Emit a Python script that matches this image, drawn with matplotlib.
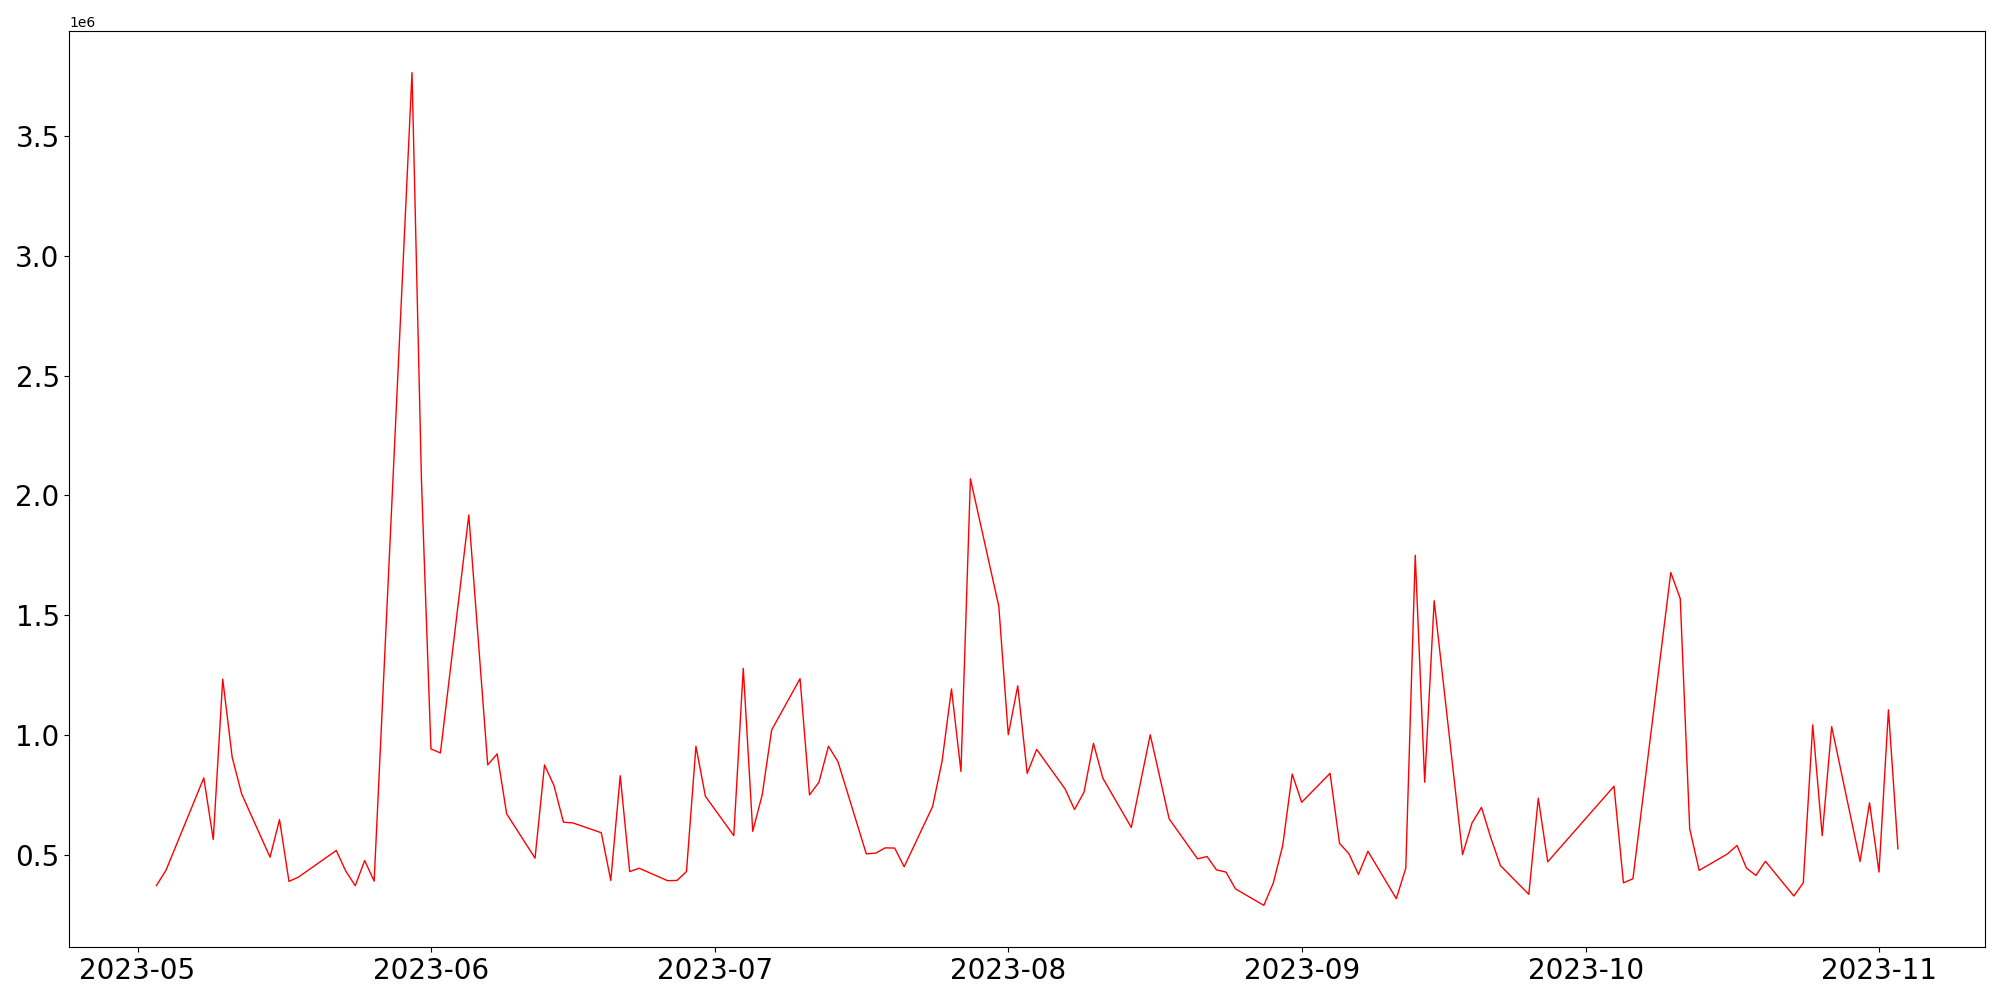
import numpy as np
import pandas as pd
import matplotlib
matplotlib.use("Agg")
import matplotlib.pyplot as plt

# ==========================================
# 日期与数值（读自参考图，单位 1e6）
dates = [
    "2023-05-03", "2023-05-04", "2023-05-08", "2023-05-09", "2023-05-10",
    "2023-05-11", "2023-05-12", "2023-05-15", "2023-05-16", "2023-05-17",
    "2023-05-18", "2023-05-22", "2023-05-23", "2023-05-24", "2023-05-25",
    "2023-05-26", "2023-05-30", "2023-05-31", "2023-06-01", "2023-06-02",
    "2023-06-05", "2023-06-07", "2023-06-08", "2023-06-09", "2023-06-12",
    "2023-06-13", "2023-06-14", "2023-06-15", "2023-06-16", "2023-06-19",
    "2023-06-20", "2023-06-21", "2023-06-22", "2023-06-23", "2023-06-26",
    "2023-06-27", "2023-06-28", "2023-06-29", "2023-06-30", "2023-07-03",
    "2023-07-04", "2023-07-05", "2023-07-06", "2023-07-07", "2023-07-10",
    "2023-07-11", "2023-07-12", "2023-07-13", "2023-07-14", "2023-07-17",
    "2023-07-18", "2023-07-19", "2023-07-20", "2023-07-21", "2023-07-24",
    "2023-07-25", "2023-07-26", "2023-07-27", "2023-07-28", "2023-07-31",
    "2023-08-01", "2023-08-02", "2023-08-03", "2023-08-04", "2023-08-07",
    "2023-08-08", "2023-08-09", "2023-08-10", "2023-08-11", "2023-08-14",
    "2023-08-16", "2023-08-18", "2023-08-21", "2023-08-22", "2023-08-23",
    "2023-08-24", "2023-08-25", "2023-08-28", "2023-08-29", "2023-08-30",
    "2023-08-31", "2023-09-01", "2023-09-04", "2023-09-05", "2023-09-06",
    "2023-09-07", "2023-09-08", "2023-09-11", "2023-09-12", "2023-09-13",
    "2023-09-14", "2023-09-15", "2023-09-18", "2023-09-19", "2023-09-20",
    "2023-09-21", "2023-09-22", "2023-09-25", "2023-09-26", "2023-09-27",
    "2023-10-04", "2023-10-05", "2023-10-06", "2023-10-10", "2023-10-11",
    "2023-10-12", "2023-10-13", "2023-10-16", "2023-10-17", "2023-10-18",
    "2023-10-19", "2023-10-20", "2023-10-23", "2023-10-24", "2023-10-25",
    "2023-10-26", "2023-10-27", "2023-10-30", "2023-10-31", "2023-11-01",
    "2023-11-02", "2023-11-03",
]
values = [
    0.372, 0.435, 0.821, 0.564, 1.233,
    0.907, 0.754, 0.490, 0.647, 0.389,
    0.407, 0.518, 0.432, 0.371, 0.476,
    0.390, 3.764, 2.060, 0.942, 0.925,
    1.918, 0.875, 0.921, 0.671, 0.486,
    0.875, 0.789, 0.636, 0.633, 0.592,
    0.393, 0.830, 0.430, 0.444, 0.392,
    0.393, 0.430, 0.953, 0.744, 0.580,
    1.278, 0.598, 0.750, 1.021, 1.235,
    0.750, 0.803, 0.953, 0.889, 0.504,
    0.507, 0.529, 0.528, 0.450, 0.701,
    0.889, 1.192, 0.848, 2.069, 1.537,
    1.001, 1.205, 0.840, 0.940, 0.775,
    0.689, 0.761, 0.965, 0.819, 0.614,
    1.001, 0.650, 0.483, 0.493, 0.437,
    0.428, 0.358, 0.289, 0.382, 0.539,
    0.837, 0.719, 0.840, 0.548, 0.504,
    0.418, 0.515, 0.317, 0.444, 1.750,
    0.803, 1.560, 0.501, 0.633, 0.698,
    0.569, 0.455, 0.335, 0.736, 0.471,
    0.786, 0.383, 0.400, 1.678, 1.569,
    0.608, 0.435, 0.504, 0.539, 0.444,
    0.414, 0.473, 0.328, 0.383, 1.042,
    0.580, 1.035, 0.472, 0.717, 0.428,
    1.105, 0.525,
]

x = pd.to_datetime(dates)
y = np.array(values) * 1e6

fig, ax = plt.subplots(figsize=(20, 10), dpi=100)
ax.plot(x, y, color='red', linewidth=1.0)
ax.tick_params(axis='both', labelsize=20)
plt.subplots_adjust(left=0.0347, right=0.9925, bottom=0.053, top=0.969)
plt.savefig("out.png", dpi=100)
